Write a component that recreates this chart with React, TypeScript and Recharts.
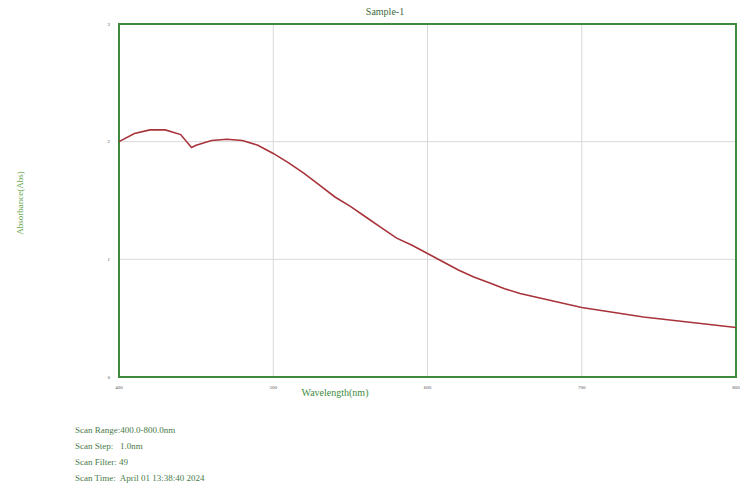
import { LineChart, Line, XAxis, YAxis, CartesianGrid, ReferenceArea } from "recharts";

const wavelengths = [
  400, 410, 420, 430, 440, 447, 450, 460, 470, 480, 490, 500, 510, 520, 530, 540, 550,
  560, 570, 580, 590, 600, 610, 620, 630, 640, 650, 660, 670, 680, 690, 700, 720, 740,
  760, 780, 800,
];
const absorbance = [
  2.0, 2.07, 2.1, 2.1, 2.06, 1.95, 1.97, 2.01, 2.02, 2.01, 1.97, 1.9, 1.82, 1.73, 1.63,
  1.53, 1.45, 1.36, 1.27, 1.18, 1.12, 1.05, 0.98, 0.91, 0.85, 0.8, 0.75, 0.71, 0.68,
  0.65, 0.62, 0.59, 0.55, 0.51, 0.48, 0.45, 0.42,
];
const xTicks = [400, 500, 600, 700, 800];
const yTicks = [0, 1, 2, 3];
const scanInfo = [
  "Scan Range:400.0-800.0nm",
  "Scan Step:   1.0nm",
  "Scan Filter: 49",
  "Scan Time:  April 01 13:38:40 2024",
];

const data = wavelengths.map((w, i) => ({ w, a: absorbance[i] }));

const GREEN = "#3d8a3d";
const FONT = "'Liberation Serif', 'DejaVu Serif', serif";

export default function App() {
  const tick = { fontSize: 5, fill: "#555", fontFamily: FONT };
  return (
    <div style={{ position: "absolute", left: 0, top: 0, width: 749, height: 495, background: "#fff", fontFamily: FONT }}>
      <LineChart width={749} height={495} data={data} margin={{ top: 24, right: 13, bottom: 98, left: 100 }}>
        <CartesianGrid stroke="#d9d9d9" strokeWidth={1} />
        <XAxis
          dataKey="w"
          type="number"
          domain={[400, 800]}
          ticks={xTicks}
          tick={tick}
          tickLine={false}
          axisLine={false}
          height={20}
          tickMargin={2}
        />
        <YAxis
          type="number"
          domain={[0, 3]}
          ticks={yTicks}
          tick={tick}
          tickLine={false}
          axisLine={false}
          width={19}
          tickMargin={3}
        />
        <ReferenceArea x1={400} x2={800} y1={0} y2={3} fill="none" stroke={GREEN} strokeWidth={2} />
        <Line
          dataKey="a"
          type="linear"
          stroke="#a8333a"
          strokeWidth={1.6}
          dot={false}
          isAnimationActive={false}
        />
      </LineChart>
      <div style={{ position: "absolute", left: 340, width: 90, top: 6, textAlign: "center", fontSize: 10, color: "#3d6b3d" }}>
        Sample-1
      </div>
      <div style={{ position: "absolute", left: 290, width: 90, top: 387, textAlign: "center", fontSize: 10, color: GREEN }}>
        Wavelength(nm)
      </div>
      <div
        style={{
          position: "absolute",
          left: 20,
          top: 203,
          transform: "translate(-50%, -50%) rotate(-90deg)",
          fontSize: 9,
          color: "#6aa84f",
          whiteSpace: "nowrap",
        }}
      >
        Absorbance(Abs)
      </div>
      {scanInfo.map((s, i) => (
        <div
          key={s}
          style={{ position: "absolute", left: 75, top: 425 + i * 16, fontSize: 9, color: "#4a7a4a", whiteSpace: "pre" }}
        >
          {s}
        </div>
      ))}
    </div>
  );
}
